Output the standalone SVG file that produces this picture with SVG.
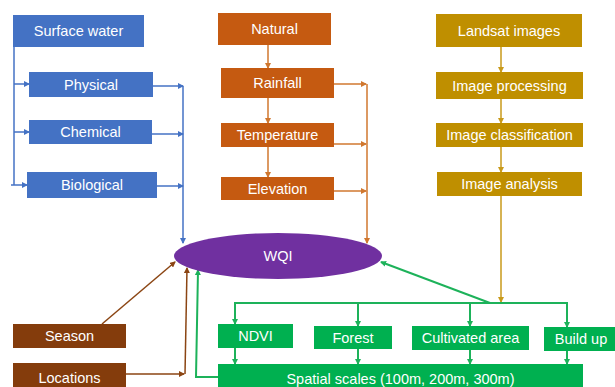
<svg xmlns="http://www.w3.org/2000/svg" width="615" height="387" viewBox="0 0 615 387">
<style>
text{font-family:"Liberation Sans",Arial,sans-serif;font-size:14.5px;fill:#fff;text-anchor:middle;dominant-baseline:central}
.b{fill:#4472C4}.o{fill:#C55A11}.g{fill:#BF8F00}.gr{fill:#00B050}.br{fill:#843C0C}.p{fill:#7030A0}
.lb{stroke:#4472C4;fill:none;stroke-width:1.5}
.lo{stroke:#D0772F;fill:none;stroke-width:1.5}
.lg{stroke:#C99A1A;fill:none;stroke-width:1.5}
.lgr{stroke:#1DB25A;fill:none;stroke-width:2}
.lbr{stroke:#8B4513;fill:none;stroke-width:1.5}
</style>
<defs>
<marker id="ab" markerWidth="6" markerHeight="6" refX="5" refY="3" orient="auto" markerUnits="userSpaceOnUse"><path d="M0,0L6,3L0,6z" fill="#4472C4"/></marker>
<marker id="ao" markerWidth="6" markerHeight="6" refX="5" refY="3" orient="auto" markerUnits="userSpaceOnUse"><path d="M0,0L6,3L0,6z" fill="#D0772F"/></marker>
<marker id="ag" markerWidth="6" markerHeight="6" refX="5" refY="3" orient="auto" markerUnits="userSpaceOnUse"><path d="M0,0L6,3L0,6z" fill="#C99A1A"/></marker>
<marker id="agr" markerWidth="6" markerHeight="6" refX="5" refY="3" orient="auto" markerUnits="userSpaceOnUse"><path d="M0,0L6,3L0,6z" fill="#1DB25A"/></marker>
<marker id="abr" markerWidth="6" markerHeight="6" refX="5" refY="3" orient="auto" markerUnits="userSpaceOnUse"><path d="M0,0L6,3L0,6z" fill="#8B4513"/></marker>
</defs>
<g id="connectors">
<path class="lb" d="M14,47V185"/>
<path class="lb" d="M14,84H29" marker-end="url(#ab)"/>
<path class="lb" d="M14,132H29" marker-end="url(#ab)"/>
<path class="lb" d="M11,185H27" marker-end="url(#ab)"/>
<path class="lb" d="M153,86H183" marker-end="url(#ab)"/>
<path class="lb" d="M152,134H183" marker-end="url(#ab)"/>
<path class="lb" d="M157,186H183" marker-end="url(#ab)"/>
<path class="lb" d="M183,86V243" marker-end="url(#ab)"/>
<path class="lo" d="M268,45V68" marker-end="url(#ao)"/>
<path class="lo" d="M268,98V123" marker-end="url(#ao)"/>
<path class="lo" d="M268,147V177" marker-end="url(#ao)"/>
<path class="lo" d="M334,84H366" marker-end="url(#ao)"/>
<path class="lo" d="M334,144H366" marker-end="url(#ao)"/>
<path class="lo" d="M334,191H366" marker-end="url(#ao)"/>
<path class="lo" d="M367,84V243" marker-end="url(#ao)"/>
<path class="lg" d="M501,47V72" marker-end="url(#ag)"/>
<path class="lg" d="M501,99V123" marker-end="url(#ag)"/>
<path class="lg" d="M501,147V172" marker-end="url(#ag)"/>
<path class="lg" d="M501,196V302" marker-end="url(#ag)"/>
<path class="lgr" d="M235,324V303H567V327"/>
<path class="lgr" d="M235,310V324" marker-end="url(#agr)"/>
<path class="lgr" d="M358,303V326" marker-end="url(#agr)"/>
<path class="lgr" d="M470,303V326" marker-end="url(#agr)"/>
<path class="lgr" d="M567,310V327" marker-end="url(#agr)"/>
<path class="lgr" d="M490,303L381,262" marker-end="url(#agr)"/>
<path class="lgr" d="M235,348V364" marker-end="url(#agr)"/>
<path class="lgr" d="M358,349V364" marker-end="url(#agr)"/>
<path class="lgr" d="M470,350V364" marker-end="url(#agr)"/>
<path class="lgr" d="M567,351V364" marker-end="url(#agr)"/>
<path class="lgr" d="M218,377H196L198,270" marker-end="url(#agr)"/>
<path class="lbr" d="M102,324L175,262" marker-end="url(#abr)"/>
<path class="lbr" d="M126,374H184" marker-end="url(#abr)"/>
<path class="lbr" d="M185,374L187,268" marker-end="url(#abr)"/>
</g>
<g id="surface-water"><rect class="b" x="13" y="15" width="131" height="32"/><text x="78.5" y="31">Surface water</text></g>
<g id="physical"><rect class="b" x="29" y="72" width="124" height="25"/><text x="91" y="84.5">Physical</text></g>
<g id="chemical"><rect class="b" x="29" y="120" width="123" height="24"/><text x="90.5" y="132">Chemical</text></g>
<g id="biological"><rect class="b" x="27" y="172" width="130" height="26"/><text x="92" y="185">Biological</text></g>
<g id="natural"><rect class="o" x="218" y="13" width="113" height="32"/><text x="274.5" y="29">Natural</text></g>
<g id="rainfall"><rect class="o" x="221" y="68" width="113" height="30"/><text x="277.5" y="83">Rainfall</text></g>
<g id="temperature"><rect class="o" x="221" y="123" width="113" height="24"/><text x="277.5" y="135">Temperature</text></g>
<g id="elevation"><rect class="o" x="221" y="177" width="113" height="23"/><text x="277.5" y="188.5">Elevation</text></g>
<g id="landsat"><rect class="g" x="436" y="14" width="146" height="33"/><text x="509" y="30.5">Landsat images</text></g>
<g id="processing"><rect class="g" x="436" y="72" width="147" height="27"/><text x="509.5" y="85.5">Image processing</text></g>
<g id="classification"><rect class="g" x="436" y="123" width="147" height="24"/><text x="509.5" y="135">Image classification</text></g>
<g id="analysis"><rect class="g" x="437" y="172" width="145" height="24"/><text x="509.5" y="184">Image analysis</text></g>
<g id="wqi"><ellipse class="p" cx="278" cy="256" rx="104" ry="23"/><text x="278" y="256">WQI</text></g>
<g id="ndvi"><rect class="gr" x="218" y="324" width="75" height="24"/><text x="255.5" y="336">NDVI</text></g>
<g id="forest"><rect class="gr" x="314" y="326" width="78" height="23"/><text x="353" y="337.5">Forest</text></g>
<g id="cultivated"><rect class="gr" x="412" y="326" width="117" height="24"/><text x="470.5" y="338">Cultivated area</text></g>
<g id="buildup"><rect class="gr" x="544" y="327" width="71" height="24"/><text x="581" y="339">Build up</text></g>
<g id="spatial"><rect class="gr" x="218" y="364" width="365" height="26"/><text x="400.5" y="379">Spatial scales (100m, 200m, 300m)</text></g>
<g id="season"><rect class="br" x="13" y="324" width="113" height="24"/><text x="69.5" y="336">Season</text></g>
<g id="locations"><rect class="br" x="13" y="363" width="113" height="27"/><text x="69.5" y="378">Locations</text></g>
</svg>
